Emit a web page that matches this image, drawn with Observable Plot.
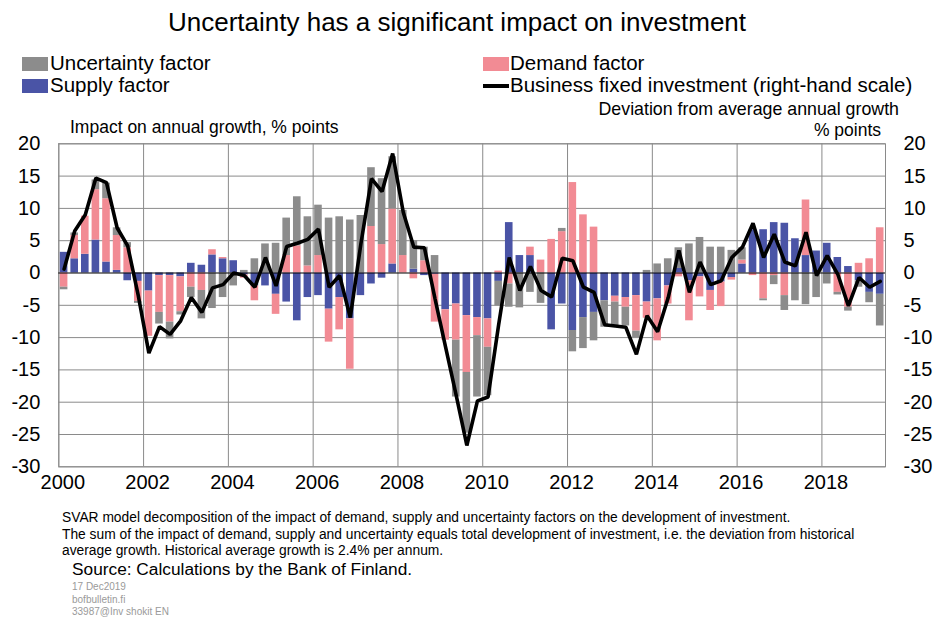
<!DOCTYPE html>
<html><head><meta charset="utf-8">
<script src="https://cdn.jsdelivr.net/npm/d3@7"></script>
<script src="https://cdn.jsdelivr.net/npm/@observablehq/plot@0.6"></script>
<style>
body{margin:0;background:#fff;font-family:"Liberation Sans",Arial,sans-serif;color:#000;}
#wrap{position:relative;width:934px;height:619px;overflow:hidden;background:#fff;}
.abs{position:absolute;white-space:nowrap;line-height:1;}
.sw{position:absolute;width:26px;height:14px;}
#chart{position:absolute;left:0;top:95px;}
</style></head><body>
<div id="wrap">
  <div class="abs" style="left:0;width:914px;text-align:center;top:9px;font-size:26px">Uncertainty has a significant impact on investment</div>

  <div class="sw" style="left:22px;top:57px;background:#8c8c8c"></div>
  <div class="abs" style="left:50px;top:53px;font-size:20.5px">Uncertainty factor</div>
  <div class="sw" style="left:483px;top:57px;background:#f28b94"></div>
  <div class="abs" style="left:510px;top:53px;font-size:20.5px">Demand factor</div>
  <div class="sw" style="left:22px;top:79px;background:#4a54a6"></div>
  <div class="abs" style="left:50px;top:75px;font-size:20.5px">Supply factor</div>
  <div class="sw" style="left:483px;top:84px;height:4px;background:#000"></div>
  <div class="abs" style="left:510px;top:75px;font-size:20.5px">Business fixed investment (right-hand scale)</div>

  <div class="abs" style="right:35px;top:101px;font-size:17.8px">Deviation from average annual growth</div>
  <div class="abs" style="right:53px;top:122px;font-size:17.5px">% points</div>
  <div class="abs" style="left:70px;top:119px;font-size:17.5px">Impact on annual growth, % points</div>

  <div id="chart"></div>

  <div class="abs" style="left:62px;top:511px;font-size:13.8px">SVAR model decomposition of the impact of demand, supply and uncertainty factors on the development of investment.</div>
  <div class="abs" style="left:62px;top:528px;font-size:13.8px">The sum of the impact of demand, supply and uncertainty equals total development of investment, i.e. the deviation from historical</div>
  <div class="abs" style="left:62px;top:544px;font-size:13.8px">average growth. Historical average growth is 2.4% per annum.</div>
  <div class="abs" style="left:72px;top:561px;font-size:17.3px">Source: Calculations by the Bank of Finland.</div>
  <div class="abs" style="left:72px;top:582px;font-size:10px;color:#9a9a9a">17 Dec2019</div>
  <div class="abs" style="left:72px;top:595px;font-size:10px;color:#9a9a9a">bofbulletin.fi</div>
  <div class="abs" style="left:72px;top:607px;font-size:10px;color:#9a9a9a">33987@Inv shokit EN</div>
</div>
<script>
// Quarters 2000Q1 .. 2019Q2
const startYear = 2000;
const nQuarters = 78;

const supply = [
  3.2, 2.2, 2.9, 5.1, 1.7, 0.4, -1.2, -1.3, -2.8, -0.4,
  -0.4, -0.6, 1.5, 1.2, 2.8, 2.2, 1.9, -0.3, -2.0, -2.0,
  -3.3, -4.5, -7.4, -3.8, -3.5, -5.6, -3.8, -7.1, -3.5, -1.7,
  -0.8, 1.4, 0, 0.6, -0.4, -0.2, -5.7, -4.8, -6.6, -6.9,
  -7.1, -1.3, 7.8, 2.7, 2.7, 0, -8.8, -4.8, -8.9, -6.9,
  -6.1, -4.3, -3.6, -3.8, -3.5, -4.5, -4.0, -2.0, 0.7, -1.2,
  -0.6, -2.7, -1.4, -0.7, 1.4, 6.7, 6.7, 7.8, 7.7, 5.3,
  2.7, 3.4, 4.6, 2.4, 1.0, -1.2, -3.0, -3.3
];
const demand = [
  -2.2, 3.6, 5.9, 7.8, 9.8, 5.4, 3.9, -3.1, -7.0, -5.7,
  -7.2, -5.4, -2.2, -2.7, 0.8, 0.2, 0, -0.5, -2.3, 0,
  -3.1, 2.7, 4.2, 1.1, 2.7, -5.1, -5.0, -7.8, 0, 7.2,
  4.4, 8.5, 2.7, -0.9, 1.9, -7.4, -4.7, -5.6, -8.8, -2.8,
  -4.4, 0.3, -1.7, 0, 1.3, 2.0, 5.2, 6.4, 14.0, 9.0,
  7.1, 0, -0.9, -1.5, -5.5, -2.5, -6.5, -2.8, -0.6, -6.2,
  -3.1, -3.1, -3.8, -0.4, 0.6, -0.4, -4.0, -0.4, -3.5, 0,
  8.6, 0, 0, -3.0, -5.3, 1.5, 2.2, 7.0
];
const uncertainty = [
  -0.4, 0.4, 0, 1.5, 2.4, 1.2, 0.8, -0.3, 0, -1.8,
  -2.6, -0.5, -1.6, -4.4, -5.5, -3.8, -2.0, 0.4, 2.2, 4.5,
  4.6, 5.8, 7.6, 7.6, 7.8, 8.5, 8.7, 8.2, 8.9, 9.1,
  10.2, 8.1, 7.0, 4.4, 2.1, 2.7, 0, -8.8, -9.4, -9.5,
  -7.5, -3.8, -3.6, -5.4, -3.0, -4.7, 0, 0.5, -3.3, -4.8,
  -4.4, -4.1, -3.7, -2.9, -1.0, 0.4, 1.4, 2.2, 3.2, 4.5,
  5.5, 4.0, 4.0, 3.5, 1.9, 0, -0.3, -1.4, -2.3, -4.3,
  -4.9, -3.8, -1.7, -0.4, -0.6, -1.0, -1.6, -4.9
];
const investment = [
  0.6, 6.5, 9.0, 14.7, 14.0, 7.0, 4.2, -3.5, -12.4, -8.3,
  -9.5, -7.4, -3.8, -6.1, -2.3, -1.8, 0.0, -0.4, -2.2, 2.4,
  -2.0, 4.1, 4.6, 5.2, 6.8, -2.2, -0.4, -6.9, 4.5, 14.6,
  12.6, 18.5, 9.4, 4.0, 3.9, -4.0, -11.5, -19.0, -26.7, -19.8,
  -19.2, -8.0, 2.4, -2.7, 1.0, -2.7, -3.7, 2.3, 1.9, -2.2,
  -3.0, -8.0, -8.2, -8.4, -12.6, -6.6, -9.1, -3.8, 3.5, -3.0,
  1.7, -1.8, -1.2, 2.4, 4.0, 7.7, 2.4, 6.0, 1.7, 1.1,
  6.3, -0.4, 2.7, -0.2, -5.1, -0.7, -2.2, -1.3
];
const factorNames = ["Supply factor", "Demand factor", "Uncertainty factor"];
const factorColors = ["#4a54a6", "#f28b94", "#8c8c8c"];
const yTicks = [-30, -25, -20, -15, -10, -5, 0, 5, 10, 15, 20];
const xLabels = [2000, 2002, 2004, 2006, 2008, 2010, 2012, 2014, 2016, 2018];

const series = [supply, demand, uncertainty];
const bars = [];
for (let i = 0; i < nQuarters; i++) {
  const t = startYear + i / 4;
  series.forEach((s, k) => bars.push({t, t2: t + 0.25, factor: factorNames[k], value: s[i]}));
}
const line = investment.map((v, i) => ({tc: startYear + i / 4 + 0.125, v}));

const grid = "#8a8a8a";
const chart = Plot.plot({
  width: 934,
  height: 405,
  marginTop: 48.3,
  marginBottom: 33.7,
  marginLeft: 58.3,
  marginRight: 49,
  style: {fontFamily: "Liberation Sans, Arial, sans-serif", fontSize: "20px", background: "transparent", color: "#000"},
  x: {domain: [2000, 2019.5], axis: null, label: null},
  y: {domain: [-30, 20], axis: null, label: null},
  color: {domain: factorNames, range: factorColors},
  marks: [
    Plot.ruleY(yTicks.filter(d => d !== 0), {stroke: grid, strokeWidth: 1}),
    Plot.ruleX(xLabels, {stroke: grid, strokeWidth: 1}),
    Plot.frame({stroke: grid, strokeWidth: 1}),
    Plot.rectY(bars, Plot.stackY({x1: "t", x2: "t2", y: "value", fill: "factor", insetLeft: 1.5, insetRight: 1.5})),
    Plot.ruleY([0], {stroke: "#000", strokeWidth: 1}),
    Plot.line(line, {x: "tc", y: "v", stroke: "#000", strokeWidth: 3.6, strokeLinejoin: "miter"}),
    Plot.text(yTicks, {y: d => d, text: d => String(d), frameAnchor: "left", textAnchor: "end", dx: -18.5, fontSize: 20}),
    Plot.text(yTicks, {y: d => d, text: d => String(d), frameAnchor: "right", textAnchor: "start", dx: 18, fontSize: 20}),
    Plot.text(xLabels, {x: d => d, text: d => String(d), frameAnchor: "bottom", dy: 22, dx: 4, fontSize: 20})
  ]
});
document.getElementById("chart").appendChild(chart);
</script>
</body></html>
